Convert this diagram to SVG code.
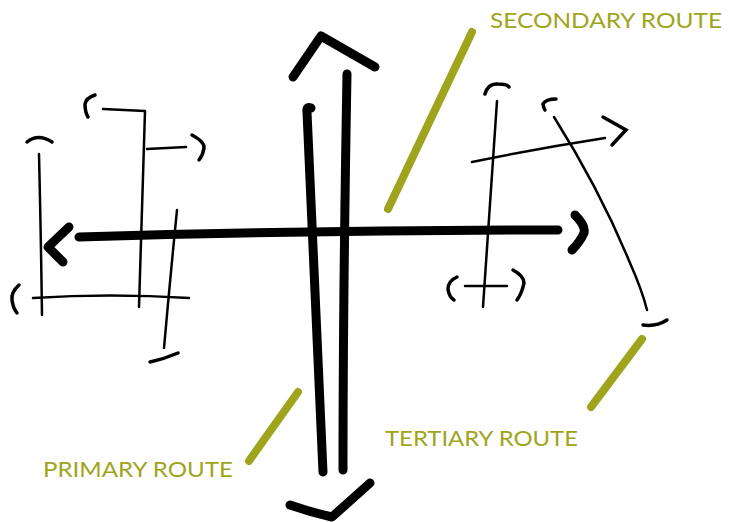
<svg xmlns="http://www.w3.org/2000/svg" width="730" height="522" viewBox="0 0 730 522">
<style>
.thin{fill:none;stroke:#000;stroke-width:2.5;stroke-linecap:round;stroke-linejoin:round}
.cap{fill:none;stroke:#000;stroke-width:3.5;stroke-linecap:round}
.thick{fill:none;stroke:#000;stroke-width:9;stroke-linecap:round;stroke-linejoin:round}
.lead{fill:none;stroke:#9ea51c;stroke-width:8;stroke-linecap:round}
.lbl{font-family:Lato,"Noto Sans","Liberation Sans",sans-serif;font-size:22px;fill:#9ea51c}
</style>
<rect width="730" height="522" fill="#fff"/>
<g id="primary-route">
<path class="thick" d="M311,108 Q306,106 307,112 Q316,300 323,472"/>
<path class="thick" d="M347,74 Q343,300 343,470"/>
<path class="thick" d="M293,77 L321,36 L375,67"/>
<path class="thick" d="M290,505 Q310,512 332,517 L370,483"/>
</g>
<g id="secondary-route">
<path class="thick" d="M79,237 Q320,230 558,230"/>
<path class="thick" d="M69,227 L48,247 L63,262"/>
<path class="thick" d="M575,215 Q586,226 584,233 Q580,242 572,250"/>
</g>
<g id="tertiary-left">
<path class="thin" d="M39,154 Q41,240 42,315"/>
<path class="cap" d="M27,142 Q38,133 52,142"/>
<path class="thin" d="M33,298 Q110,293 189,298"/>
<path class="cap" d="M19,285 Q11,292 12,300 Q13,308 17,313"/>
<path class="thin" d="M103,109 L145,111 Q142,210 139,307"/>
<path class="cap" d="M95,95 Q86,98 85,104 Q85,112 88,117"/>
<path class="thin" d="M147,149 L186,147"/>
<path class="cap" d="M192,135 Q205,142 204,148 Q203,155 199,160"/>
<path class="thin" d="M177,210 Q170,280 164,348"/>
<path class="cap" d="M150,362 Q164,359 178,353"/>
</g>
<g id="tertiary-right">
<path class="thin" d="M497,101 Q490,200 483,307"/>
<path class="cap" d="M485,94 Q488,83 498,84 Q507,84 509,87"/>
<path class="thin" d="M472,162 Q540,148 605,138"/>
<path class="cap" d="M603,117 L626,130 L612,145"/>
<path class="thin" d="M465,286 L507,286"/>
<path class="cap" d="M457,277 Q448,281 448,289 Q449,297 454,300"/>
<path class="cap" d="M513,270 Q524,276 524,283 Q522,293 517,300"/>
<path class="thin" d="M554,117 Q600,190 630,263 Q642,290 647,310"/>
<path class="cap" d="M556,99 Q546,99 543,104 Q544,109 545,110"/>
<path class="cap" d="M643,325 Q656,327 667,320"/>
</g>
<g id="connectors">
<line class="lead" x1="472" y1="32" x2="388" y2="209"/>
<line class="lead" x1="298" y1="392" x2="249" y2="461"/>
<line class="lead" x1="642" y1="339" x2="591" y2="407"/>
</g>
<g id="labels">
<text class="lbl" x="490" y="28" textLength="232" lengthAdjust="spacingAndGlyphs">SECONDARY ROUTE</text>
<text class="lbl" x="43" y="477" textLength="190" lengthAdjust="spacingAndGlyphs">PRIMARY ROUTE</text>
<text class="lbl" x="385" y="446" textLength="193" lengthAdjust="spacingAndGlyphs">TERTIARY ROUTE</text>
</g>
</svg>
